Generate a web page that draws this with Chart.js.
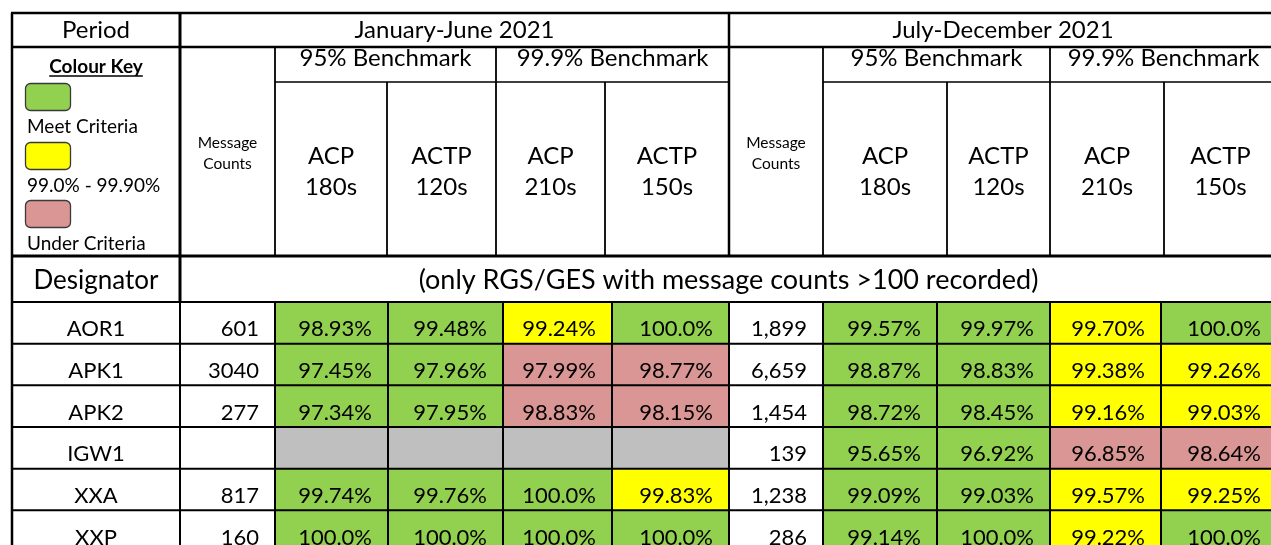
<!DOCTYPE html>
<html>
<head>
<meta charset="UTF-8">
<title>RGS/GES Benchmarks 2021</title>
<script src="https://cdn.jsdelivr.net/npm/chart.js"></script>
<style>
  html, body { margin: 0; padding: 0; background: #fff; overflow: hidden; }
  canvas { display: block; }
</style>
</head>
<body>
<canvas id="table" width="1278" height="552"></canvas>
<script>
var designators = ['AOR1', 'APK1', 'APK2', 'IGW1', 'XXA', 'XXP'];
var periods = ['January-June 2021', 'July-December 2021'];
var benchmarks = ['95% Benchmark', '99.9% Benchmark'];
var benchmarkLimits = [95, 99.9];
var metrics = [['ACP', '180s'], ['ACTP', '120s'], ['ACP', '210s'], ['ACTP', '150s']];
var keyLabels = ['Meet Criteria', '99.0% - 99.90%', 'Under Criteria'];
var note = '(only RGS/GES with message counts >100 recorded)';

var janCounts = [601, 3040, 277, null, 817, 160];
var janAcp180 = [98.93, 97.45, 97.34, null, 99.74, 100.0];
var janActp120 = [99.48, 97.96, 97.95, null, 99.76, 100.0];
var janAcp210 = [99.24, 97.99, 98.83, null, 100.0, 100.0];
var janActp150 = [100.0, 98.77, 98.15, null, 99.83, 100.0];

var julCounts = [1899, 6659, 1454, 139, 1238, 286];
var julAcp180 = [99.57, 98.87, 98.72, 95.65, 99.09, 99.14];
var julActp120 = [99.97, 98.83, 98.45, 96.92, 99.03, 100.0];
var julAcp210 = [99.70, 99.38, 99.16, 96.85, 99.57, 99.22];
var julActp150 = [100.0, 99.26, 99.03, 98.64, 99.25, 100.0];

// ---- layout / style ----
var FONT = 'Lato, "Open Sans", sans-serif';
var GREEN = '#92D050', YELLOW = '#FFFF00', RED = '#DA9694', GREY = '#BFBFBF';
var keyColours = [GREEN, YELLOW, RED];
var dataWidths = [168, 95, 113, 115, 109, 117, 94, 114, 113, 111, 116];
var headWidths = [168, 95, 112, 109, 109, 124, 94, 124, 103, 114, 113];
var headTop = 13;
var headRows = [34, 35, 174]; // period row, benchmark row, metric row (designator row follows)

function edges(widths) {
    var out = [0];
    widths.forEach(function(w) { out.push(out[out.length - 1] + w); });
    return out;
}
var dataEdges = edges(dataWidths);
var headEdges = edges(headWidths);

function pctText(v) {
    if (v === null) return '';
    return (v >= 100 ? v.toFixed(1) : v.toFixed(2)) + '%';
}
function countText(v, sep) {
    if (v === null) return '';
    return sep ? v.toLocaleString('en-US') : String(v);
}
function cellColour(v, limit) {
    if (v === null) return GREY;
    if (v >= limit) return GREEN;
    if (limit > 99 && v >= 99.0) return YELLOW;
    return RED;
}

// one column = one dataset of floating bars, one bar per designator row
var lim95 = benchmarkLimits[0], lim999 = benchmarkLimits[1];
var columns = [
    { text: designators, align: 'center' },
    { text: janCounts.map(function(v) { return countText(v, false); }) },
    { values: janAcp180, limit: lim95 },
    { values: janActp120, limit: lim95 },
    { values: janAcp210, limit: lim999 },
    { values: janActp150, limit: lim999 },
    { text: julCounts.map(function(v) { return countText(v, true); }) },
    { values: julAcp180, limit: lim95 },
    { values: julActp120, limit: lim95 },
    { values: julAcp210, limit: lim999 },
    { values: julActp150, limit: lim999 }
];

var datasets = columns.map(function(col, c) {
    return {
        label: 'col' + c,
        data: designators.map(function() { return [dataEdges[c], dataEdges[c + 1]]; }),
        backgroundColor: designators.map(function(d, r) {
            return col.values ? cellColour(col.values[r], col.limit) : '#ffffff';
        }),
        cellText: col.values ? col.values.map(pctText) : col.text,
        align: col.align || 'right',
        borderWidth: 0,
        borderSkipped: false,
        barPercentage: 1,
        categoryPercentage: 1,
        grouped: false
    };
});

function hline(ctx, y, x0, x1, w) {
    ctx.lineWidth = w;
    ctx.beginPath(); ctx.moveTo(x0, y); ctx.lineTo(x1, y); ctx.stroke();
}
function vline(ctx, x, y0, y1, w) {
    ctx.lineWidth = w;
    ctx.beginPath(); ctx.moveTo(x, y0); ctx.lineTo(x, y1); ctx.stroke();
}
function text(ctx, s, x, y, size, align, weight) {
    ctx.font = (weight || 'normal') + ' ' + size + 'px ' + FONT;
    ctx.textAlign = align || 'center';
    ctx.textBaseline = 'alphabetic';
    ctx.fillText(s, x, y);
}
function roundRect(ctx, x, y, w, h, r) {
    ctx.beginPath();
    ctx.moveTo(x + r, y);
    ctx.arcTo(x + w, y, x + w, y + h, r);
    ctx.arcTo(x + w, y + h, x, y + h, r);
    ctx.arcTo(x, y + h, x, y, r);
    ctx.arcTo(x, y, x + w, y, r);
    ctx.closePath();
}

var tablePlugin = {
    id: 'tableGrid',
    beforeDraw: function(chart) {
        var ctx = chart.ctx;
        ctx.save();
        ctx.fillStyle = '#ffffff';
        ctx.fillRect(0, 0, chart.width, chart.height);
        ctx.restore();
    },
    afterDatasetsDraw: function(chart) {
        var ctx = chart.ctx;
        var xs = chart.scales.x;
        var area = chart.chartArea;
        var hx = headEdges.map(function(v) { return xs.getPixelForValue(v); });
        var dx = dataEdges.map(function(v) { return xs.getPixelForValue(v); });
        var y0 = headTop, y1 = y0 + headRows[0], y2 = y1 + headRows[1], y3 = y2 + headRows[2], y4 = area.top;
        var right = hx[hx.length - 1];
        var mid = function(a, b) { return (a + b) / 2; };

        ctx.save();
        ctx.fillStyle = '#000';
        ctx.strokeStyle = '#000';

        // cell texts
        chart.data.datasets.forEach(function(ds, c) {
            chart.getDatasetMeta(c).data.forEach(function(bar, r) {
                var p = bar.getProps(['x', 'base', 'y', 'height'], true);
                var s = ds.cellText[r];
                if (!s) return;
                var by = p.y + p.height / 2 - 7.5;
                if (ds.align === 'center') text(ctx, s, mid(p.base, p.x), by, 22, 'center');
                else text(ctx, s, p.x - 16, by, 22, 'right');
            });
        });

        // header texts
        text(ctx, 'Period', mid(hx[0], hx[1]), 38, 24);
        text(ctx, periods[0], mid(hx[1], hx[6]), 38, 24);
        text(ctx, periods[1], mid(hx[6], right), 38, 24);
        [1, 6].forEach(function(i) {
            text(ctx, 'Message', mid(hx[i], hx[i + 1]), 148, 15.5);
            text(ctx, 'Counts', mid(hx[i], hx[i + 1]), 169, 15.5);
        });
        [2, 7].forEach(function(s) {
            text(ctx, benchmarks[0], mid(hx[s], hx[s + 2]), 66, 24);
            text(ctx, benchmarks[1], mid(hx[s + 2], hx[s + 4]), 66, 24);
            metrics.forEach(function(m, k) {
                var cx = mid(hx[s + k], hx[s + k + 1]);
                text(ctx, m[0], cx, 163.5, 24);
                text(ctx, m[1], cx, 195, 24);
            });
        });
        text(ctx, 'Designator', mid(hx[0], hx[1]), 289, 26);
        text(ctx, note, mid(hx[1], right), 289, 27);

        // colour key
        var keyCx = mid(hx[0], hx[1]);
        text(ctx, 'Colour Key', keyCx, 73, 19, 'center', 'bold');
        var kw = ctx.measureText('Colour Key').width;
        hline(ctx, 76, keyCx - kw / 2, keyCx + kw / 2, 1.5);
        var keyTops = [83, 142, 200], keyBase = [133, 192, 250];
        keyColours.forEach(function(col, k) {
            roundRect(ctx, 25.5, keyTops[k] + 0.5, 45, 27, 5);
            ctx.fillStyle = col;
            ctx.fill();
            ctx.strokeStyle = '#3a3a3a';
            ctx.lineWidth = 1.3;
            ctx.stroke();
            ctx.fillStyle = '#000';
            ctx.strokeStyle = '#000';
            text(ctx, keyLabels[k], 27, keyBase[k], 19, 'left');
        });

        // header grid
        hline(ctx, y0, hx[0] - 1, right, 2.5);
        hline(ctx, y1, hx[0], right, 2.5);
        hline(ctx, y2, hx[2], hx[6], 1.7);
        hline(ctx, y2, hx[7], right, 1.7);
        hline(ctx, y3, hx[0], right, 3);
        vline(ctx, hx[1], y0, y4, 3);
        vline(ctx, hx[6], y0, y3, 2.5);
        [2, 4, 7, 9].forEach(function(i) { vline(ctx, hx[i], y1, y3, 1.8); });
        [3, 5, 8, 10].forEach(function(i) { vline(ctx, hx[i], y2, y3, 1.8); });

        // data grid
        var band = area.height / designators.length;
        for (var r = 0; r <= designators.length; r++) {
            hline(ctx, area.top + r * band, hx[0], right, 2);
        }
        dx.forEach(function(x, i) { if (i > 0) vline(ctx, x, y4, area.bottom, 2); });
        vline(ctx, hx[0], y0, area.bottom, 2.5);

        ctx.restore();
    }
};

var chart = new Chart(document.getElementById('table').getContext('2d'), {
    type: 'bar',
    data: { labels: designators, datasets: datasets },
    options: {
        indexAxis: 'y',
        responsive: false,
        animation: false,
        devicePixelRatio: 1,
        layout: { padding: { top: 302, left: 12, right: 1, bottom: 0 } },
        scales: {
            x: { type: 'linear', min: 0, max: dataEdges[dataEdges.length - 1], display: false },
            y: { type: 'category', display: false, offset: true }
        },
        plugins: { legend: { display: false }, tooltip: { enabled: false } }
    },
    plugins: [tablePlugin]
});
</script>
</body>
</html>
